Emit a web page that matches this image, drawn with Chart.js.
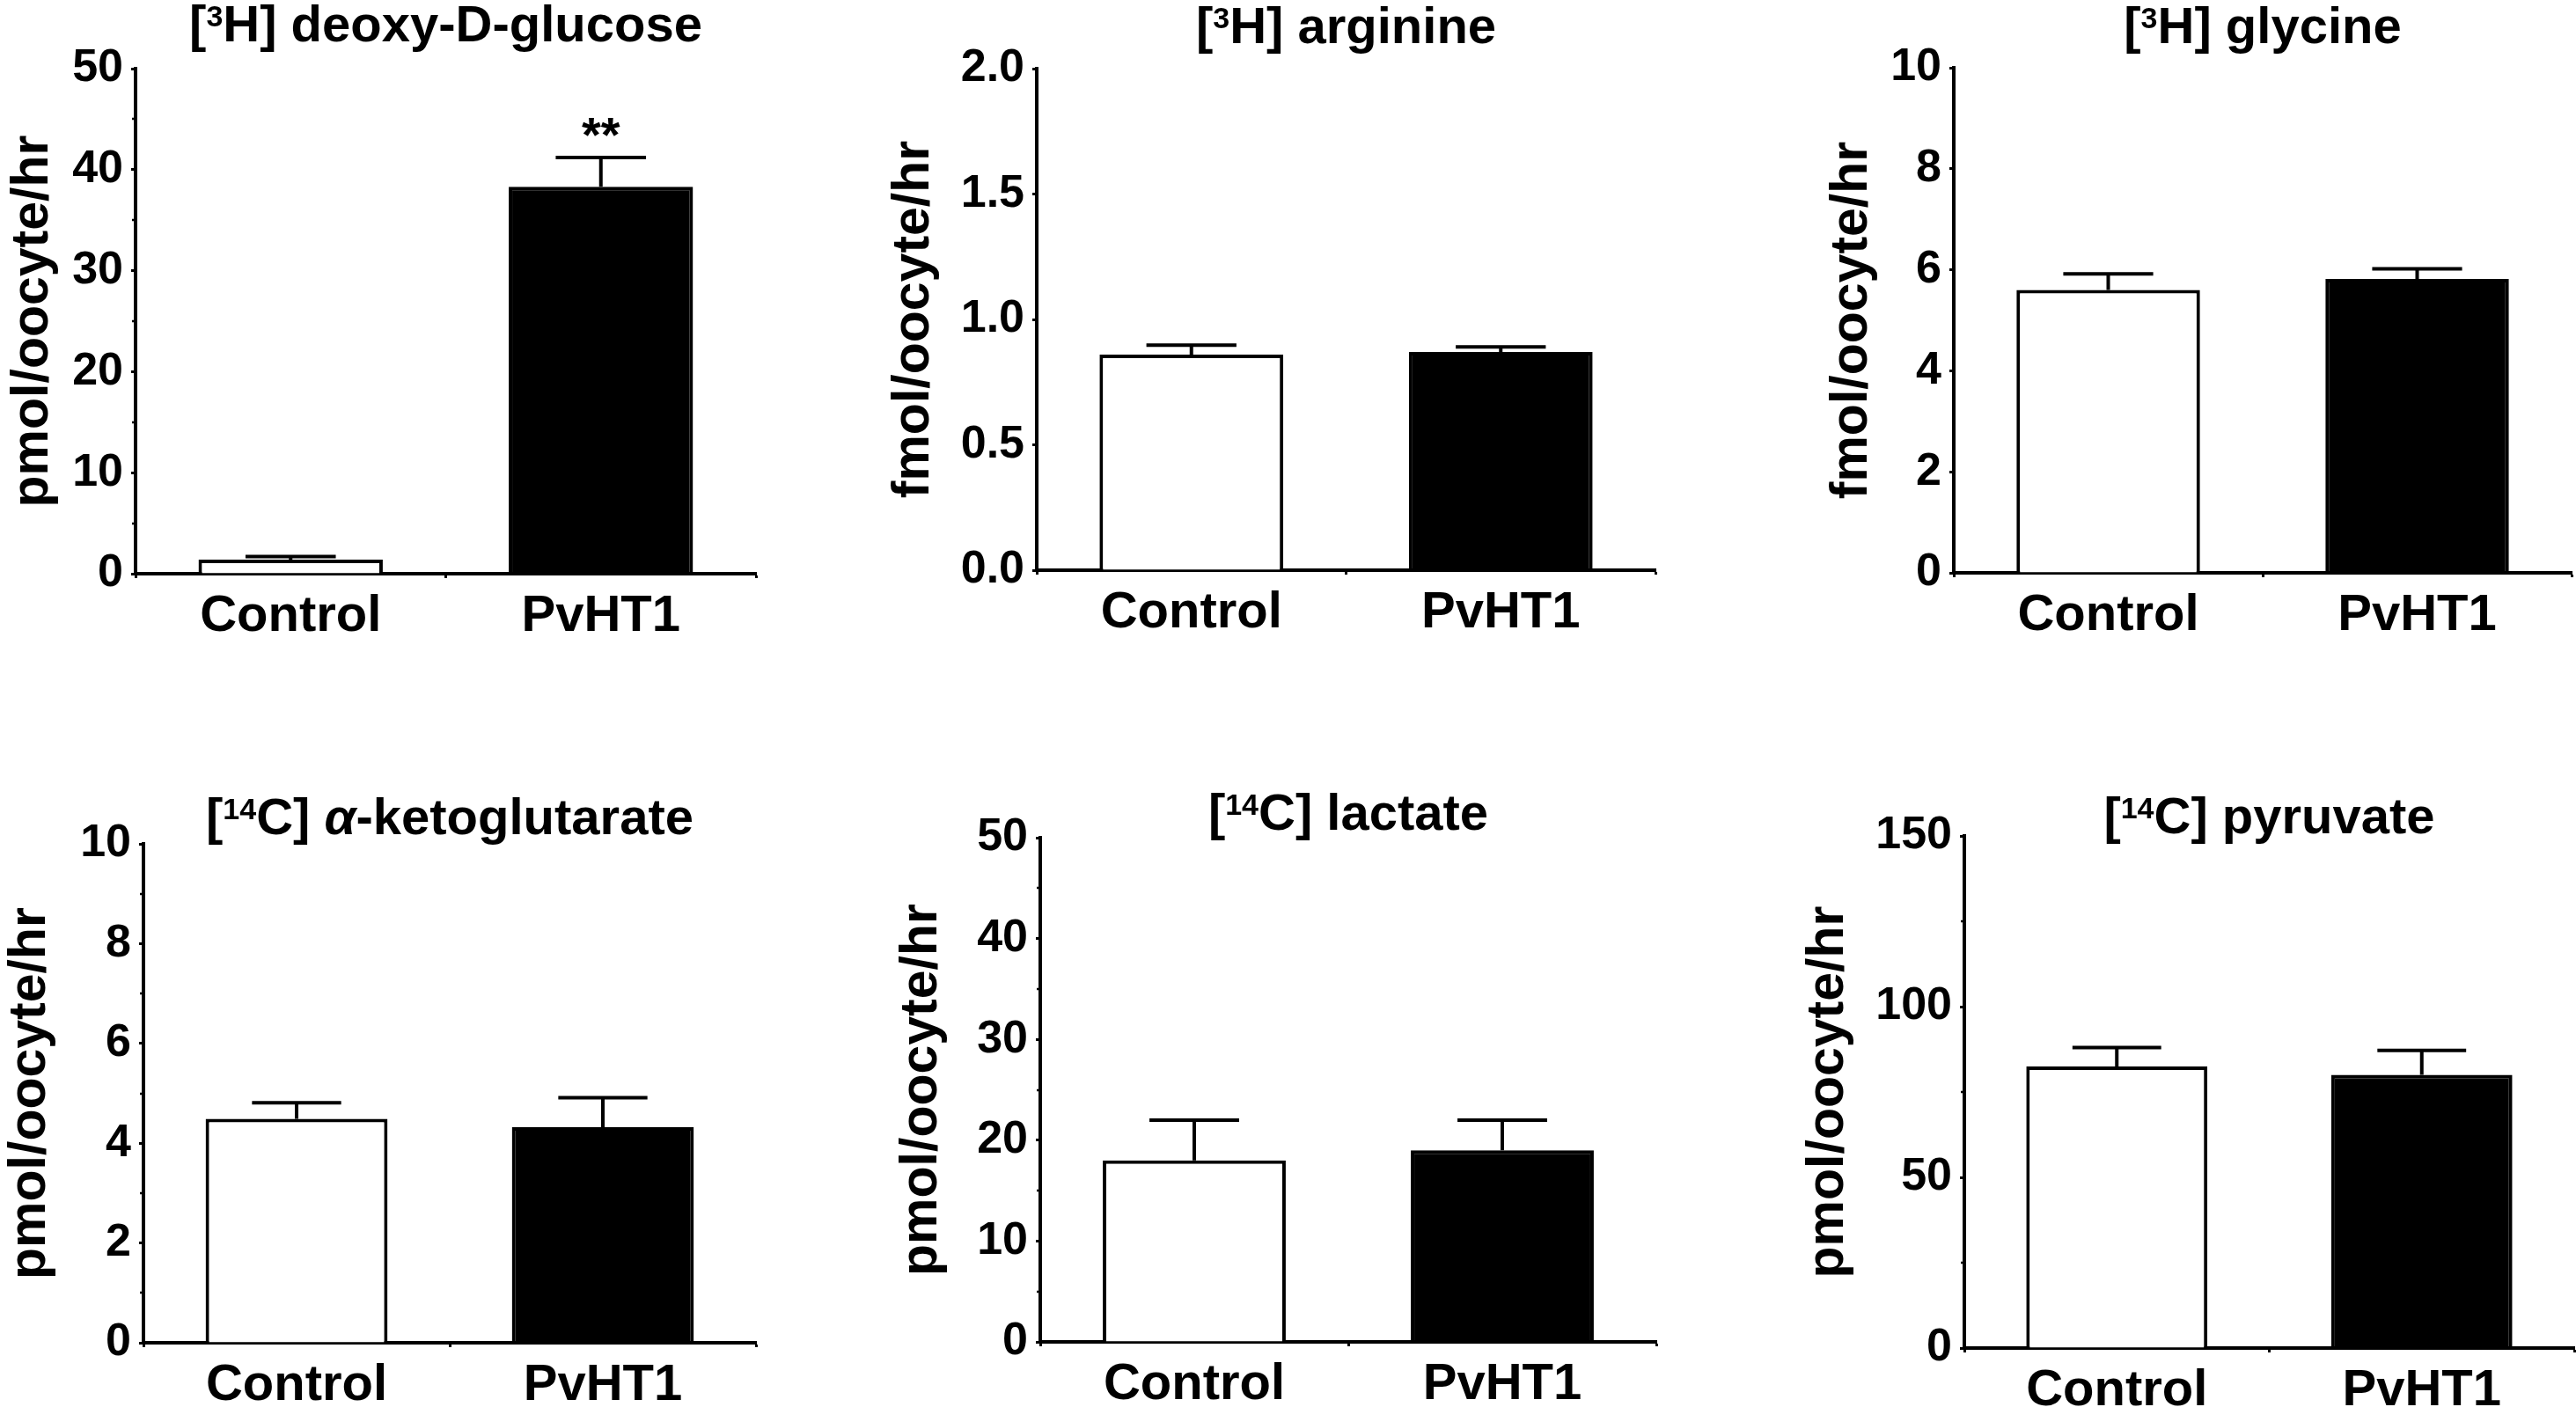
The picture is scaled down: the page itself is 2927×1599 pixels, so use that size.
<!DOCTYPE html>
<html><head><meta charset="utf-8">
<script src="https://cdn.jsdelivr.net/npm/chart.js@4.4.1/dist/chart.umd.min.js"></script>
<style>
html,body{margin:0;padding:0;background:#fff;width:2927px;height:1599px;overflow:hidden;}
.panel{position:absolute;}
</style></head><body>
<script>
// ---------- DATA ----------
const categories = ['Control', 'PvHT1'];

const glucoseMean  = [1.4, 38.3];  const glucoseSem  = [0.3, 2.9];   const glucoseMarks  = ['', '**'];
const arginineMean = [0.86, 0.87]; const arginineSem = [0.037, 0.02]; const arginineMarks = ['', ''];
const glycineMean  = [5.6, 5.82];  const glycineSem  = [0.32, 0.2];   const glycineMarks  = ['', ''];
const ketoMean     = [4.49, 4.32]; const ketoSem     = [0.32, 0.59];  const ketoMarks     = ['', ''];
const lactateMean  = [18.0, 19.0]; const lactateSem  = [4.0, 3.0];    const lactateMarks  = ['', ''];
const pyruvateMean = [82.5, 80.0]; const pyruvateSem = [5.5, 7.2];    const pyruvateMarks = ['', ''];

// Title pieces: [text, style] where style is '' | 'sup' | 'italic'
const titleGlucose  = [['[', ''], ['3', 'sup'], ['H] deoxy-D-glucose', '']];
const titleArginine = [['[', ''], ['3', 'sup'], ['H] arginine', '']];
const titleGlycine  = [['[', ''], ['3', 'sup'], ['H] glycine', '']];
const titleKeto     = [['[', ''], ['14', 'sup'], ['C] ', ''], ['\u03B1', 'italic'], ['-ketoglutarate', '']];
const titleLactate  = [['[', ''], ['14', 'sup'], ['C] lactate', '']];
const titlePyruvate = [['[', ''], ['14', 'sup'], ['C] pyruvate', '']];

const unitPmol = 'pmol/oocyte/hr';
const unitFmol = 'fmol/oocyte/hr';

// Y scale tick settings: max, major step, minor step (0 = none), decimals
const scaleGlucose  = [50, 10, 5, 0];
const scaleArginine = [2.0, 0.5, 0, 1];
const scaleGlycine  = [10, 2, 0, 0];
const scaleKeto     = [10, 2, 1, 0];
const scaleLactate  = [50, 10, 5, 0];
const scalePyruvate = [150, 50, 25, 0];

const panelsData = [
  [titleGlucose,  unitPmol, glucoseMean,  glucoseSem,  glucoseMarks,  scaleGlucose],
  [titleArginine, unitFmol, arginineMean, arginineSem, arginineMarks, scaleArginine],
  [titleGlycine,  unitFmol, glycineMean,  glycineSem,  glycineMarks,  scaleGlycine],
  [titleKeto,     unitPmol, ketoMean,     ketoSem,     ketoMarks,     scaleKeto],
  [titleLactate,  unitPmol, lactateMean,  lactateSem,  lactateMarks,  scaleLactate],
  [titlePyruvate, unitPmol, pyruvateMean, pyruvateSem, pyruvateMarks, scalePyruvate]
];

// ---------- LAYOUT (page pixels) ----------
const layouts = [
  {left:0,    top:0,   w:900, h:800, axisX:154,  right:859,  chartTop:78,  chartBottom:652,  titleBase:47,  yTitleX:38},
  {left:960,  top:0,   w:960, h:800, axisX:1178, right:1881, chartTop:78,  chartBottom:648,  titleBase:49,  yTitleX:1039},
  {left:1990, top:0,   w:937, h:800, axisX:2220, right:2922, chartTop:77,  chartBottom:651,  titleBase:49,  yTitleX:2105},
  {left:0,    top:850, w:900, h:749, axisX:163,  right:859,  chartTop:959, chartBottom:1526, titleBase:948, yTitleX:35},
  {left:960,  top:850, w:960, h:749, axisX:1182, right:1882, chartTop:952, chartBottom:1525, titleBase:943, yTitleX:1048},
  {left:1990, top:850, w:937, h:749, axisX:2232, right:2925, chartTop:950, chartBottom:1532, titleBase:947, yTitleX:2078}
];

const FONT = '"Liberation Sans", Arial, Helvetica, sans-serif';
const TICK_SIZE = 52, CAT_SIZE = 58, TITLE_SIZE = 58, YTITLE_SIZE = 59, SUP_SIZE = 34, MARK_SIZE = 56;
const LINE = 4;

// ---------- PLUGINS ----------
const errorBarPlugin = {
  id: 'errorBars',
  afterDatasetsDraw(chart, args, opts) {
    const ctx = chart.ctx, y = chart.scales.y;
    const meta = chart.getDatasetMeta(0);
    ctx.save();
    ctx.strokeStyle = '#000';
    ctx.lineWidth = LINE;
    ctx.lineCap = 'butt';
    meta.data.forEach((bar, i) => {
      const p = bar.getProps(['x', 'y', 'width'], true);
      const top = y.getPixelForValue(opts.mean[i] + opts.sem[i]);
      const half = p.width * 0.245;
      ctx.beginPath();
      ctx.moveTo(p.x, p.y);
      ctx.lineTo(p.x, top);
      ctx.moveTo(p.x - half, top);
      ctx.lineTo(p.x + half, top);
      ctx.stroke();
      if (opts.marks[i]) {
        ctx.fillStyle = '#000';
        ctx.font = 'bold ' + MARK_SIZE + 'px ' + FONT;
        ctx.textAlign = 'center';
        ctx.textBaseline = 'alphabetic';
        ctx.fillText(opts.marks[i], p.x, top - 7);
      }
    });
    ctx.restore();
  }
};

const minorTickPlugin = {
  id: 'minorTicks',
  afterDraw(chart, args, opts) {
    if (!opts.minor) return;
    const ctx = chart.ctx, y = chart.scales.y, x0 = chart.chartArea.left;
    ctx.save();
    ctx.strokeStyle = '#000';
    ctx.lineWidth = 2.5;
    for (let k = 1; k * opts.minor < opts.max; k++) {
      const v = k * opts.minor;
      if (Math.abs(v / opts.step - Math.round(v / opts.step)) < 1e-6) continue;
      const py = Math.round(y.getPixelForValue(v));
      ctx.beginPath();
      ctx.moveTo(x0 - 4, py);
      ctx.lineTo(x0, py);
      ctx.stroke();
    }
    ctx.restore();
  }
};

const richTitlePlugin = {
  id: 'richTitle',
  afterDraw(chart, args, opts) {
    const ctx = chart.ctx;
    const fontFor = s => (s === 'sup' ? 'bold ' + SUP_SIZE + 'px ' : s === 'italic' ? 'italic bold ' + TITLE_SIZE + 'px ' : 'bold ' + TITLE_SIZE + 'px ') + FONT;
    ctx.save();
    ctx.fillStyle = '#000';
    ctx.textBaseline = 'alphabetic';
    ctx.textAlign = 'left';
    let total = 0;
    const widths = opts.pieces.map(([t, s]) => { ctx.font = fontFor(s); const w = ctx.measureText(t).width; total += w; return w; });
    const ca = chart.chartArea;
    let x = (ca.left + ca.right) / 2 - total / 2;
    opts.pieces.forEach(([t, s], i) => {
      ctx.font = fontFor(s);
      ctx.fillText(t, x, s === 'sup' ? opts.base - 17 : opts.base);
      x += widths[i];
    });
    ctx.restore();
  }
};

// ---------- BUILD ----------
panelsData.forEach((pd, idx) => {
  const [pieces, unit, mean, sem, marks, sc] = pd;
  const [max, step, minor, dec] = sc;
  const L = layouts[idx];
  const div = document.createElement('div');
  div.className = 'panel';
  div.style.left = L.left + 'px'; div.style.top = L.top + 'px';
  div.style.width = L.w + 'px'; div.style.height = L.h + 'px';
  const cv = document.createElement('canvas');
  cv.width = L.w; cv.height = L.h;
  cv.style.width = L.w + 'px'; cv.style.height = L.h + 'px';
  div.appendChild(cv);
  document.body.appendChild(div);

  new Chart(cv, {
    type: 'bar',
    data: {
      labels: categories,
      datasets: [{
        data: mean,
        backgroundColor: ['#ffffff', '#000000'],
        borderColor: '#000000',
        borderWidth: LINE,
        borderSkipped: 'start',
        categoryPercentage: 1.0,
        barPercentage: 0.594
      }]
    },
    options: {
      responsive: false,
      devicePixelRatio: 1,
      animation: false,
      events: [],
      layout: { padding: { top: L.chartTop - L.top, right: L.left + L.w - L.right, bottom: 0, left: 0 } },
      plugins: {
        legend: { display: false },
        tooltip: { enabled: false },
        title: { display: false },
        errorBars: { mean: mean, sem: sem, marks: marks },
        minorTicks: { minor: minor, step: step, max: max },
        richTitle: { pieces: pieces, base: L.titleBase - L.top }
      },
      scales: {
        x: {
          grid: { display: true, drawOnChartArea: false, drawTicks: true, tickLength: 5, tickWidth: 3, color: '#000' },
          border: { display: true, color: '#000', width: LINE },
          ticks: { color: '#000', padding: 9, font: { family: FONT, size: CAT_SIZE, weight: 'bold' } },
          afterFit(s) { s.height = L.top + L.h - L.chartBottom; }
        },
        y: {
          min: 0, max: max,
          grid: { display: true, drawOnChartArea: false, drawTicks: true, tickLength: 5, tickWidth: 3, color: '#000' },
          border: { display: true, color: '#000', width: LINE },
          ticks: { stepSize: step, color: '#000', padding: 9, font: { family: FONT, size: TICK_SIZE, weight: 'bold' },
                   callback: v => Number(v).toFixed(dec) },
          title: { display: true, text: unit, color: '#000',
                   font: { family: FONT, size: YTITLE_SIZE, weight: 'bold', lineHeight: 1 },
                   padding: { top: L.yTitleX - L.left - YTITLE_SIZE / 2, bottom: 0 } },
          afterFit(s) { s.width = L.axisX - L.left; }
        }
      }
    },
    plugins: [errorBarPlugin, minorTickPlugin, richTitlePlugin]
  });
});
</script>
</body></html>
